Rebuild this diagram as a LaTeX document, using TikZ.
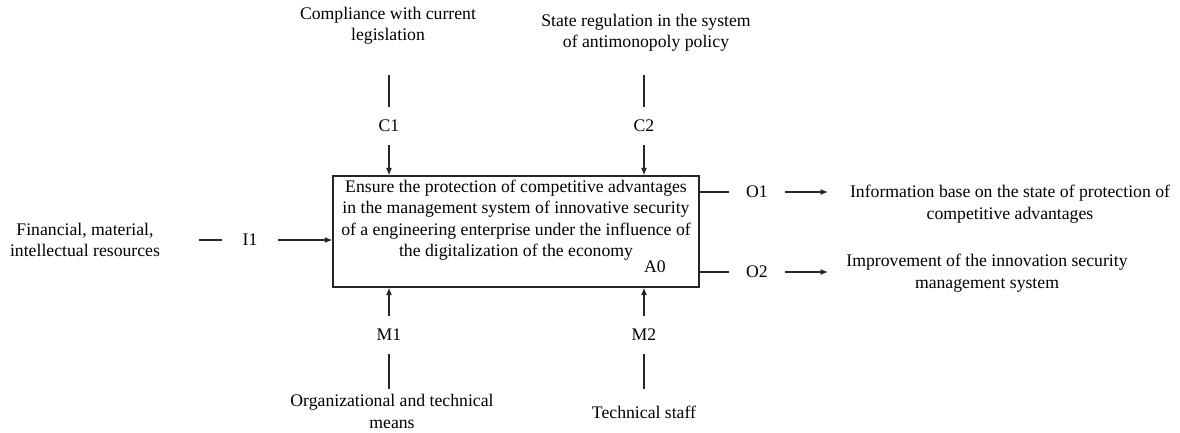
\documentclass[tikz,border=0pt]{standalone}
\usepackage{fontspec}
\setmainfont{Liberation Serif}
\usetikzlibrary{arrows.meta}
\begin{document}
\begin{tikzpicture}[x=1pt,y=-1pt,
  every node/.style={font=\fontsize{17.7}{21.5}\selectfont, inner sep=0pt},
  txt/.style={align=center},
  tag/.style={minimum width=56pt, minimum height=38pt},
  func/.style={draw=black!85, line width=1.3pt, minimum width=366pt, minimum height=111pt},
  link/.style={line width=1.1pt, draw=black!85},
  flow/.style={link, -{Latex[length=7.5pt,width=6pt]}}]
\useasboundingbox (0,0) rectangle (1180,432);

% function block A0
\node[func] (A0) at (516,231.5) {};
\node[txt] (A0text) at (516,220) {Ensure the protection of competitive advantages\\
  in the management system of innovative security\\
  of a engineering enterprise under the influence of\\
  the digitalization of the economy};
\node[anchor=east] (A0num) at (666,267) {A0};

% controls
\node[txt] (ctrl1) at (388,26) {Compliance with current\\legislation};
\node[txt] (ctrl2) at (646,33) {State regulation in the system\\of antimonopoly policy};
\node[tag] (C1) at (389,126) {C1};
\node[tag] (C2) at (644,126) {C2};
\coordinate (c1in) at (389,75);
\coordinate (c2in) at (644,75);
\draw[link] (c1in) -- (C1);
\draw[flow] (C1) -- (C1 |- A0.north);
\draw[link] (c2in) -- (C2);
\draw[flow] (C2) -- (C2 |- A0.north);

% mechanisms
\node[tag] (M1) at (389,335) {M1};
\node[tag] (M2) at (644,335) {M2};
\coordinate (m1in) at (389,389);
\coordinate (m2in) at (644,389);
\draw[link] (m1in) -- (M1);
\draw[flow] (M1) -- (M1 |- A0.south);
\draw[link] (m2in) -- (M2);
\draw[flow] (M2) -- (M2 |- A0.south);
\node[txt] (mech1) at (392,411.5) {Organizational and technical\\means};
\node[txt] (mech2) at (644,412) {Technical staff};

% input
\node[txt] (in1) at (85,240) {Financial, material,\\intellectual resources};
\node[tag] (I1) at (250,240) {I1};
\coordinate (i1in) at (199,240);
\draw[link] (i1in) -- (I1);
\draw[flow] (I1) -- (I1 -| A0.west);

% outputs
\node[tag] (O1) at (757,192) {O1};
\node[tag] (O2) at (757,272) {O2};
\coordinate (o1end) at (828,192);
\coordinate (o2end) at (828,272);
\draw[link] (O1 -| A0.east) -- (O1);
\draw[flow] (O1) -- (o1end);
\draw[link] (O2 -| A0.east) -- (O2);
\draw[flow] (O2) -- (o2end);
\node[txt] (out1) at (1010,204) {Information base on the state of protection of\\competitive advantages};
\node[txt] (out2) at (987,273) {Improvement of the innovation security\\management system};
\end{tikzpicture}
\end{document}
